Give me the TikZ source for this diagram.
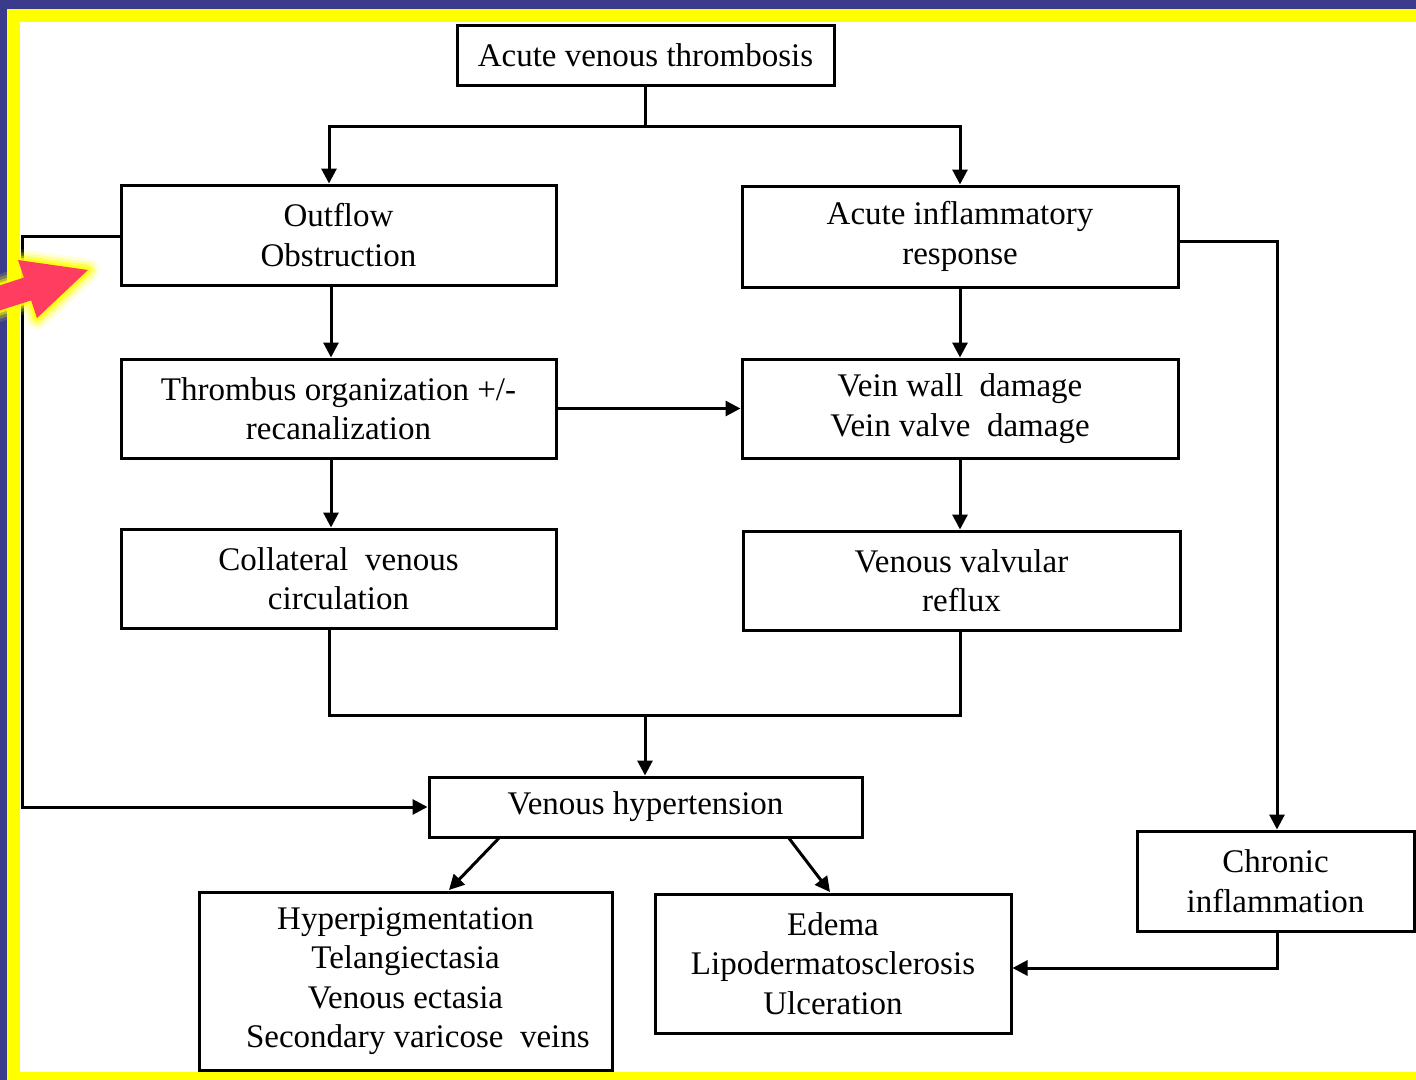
\documentclass[tikz,border=0pt]{standalone}
\usepackage{fontspec}
\setmainfont{Liberation Serif}
\usetikzlibrary{arrows.meta,calc}
\definecolor{frameblue}{HTML}{3B3B8B}
\definecolor{frameyellow}{HTML}{FFFF00}
\definecolor{pinkarrow}{HTML}{FF3D60}
\tikzset{
  box/.style={draw=black, line width=3pt, fill=white, rectangle, inner sep=0pt, align=center,
              font=\fontsize{33}{39.5}\selectfont},
  link/.style={draw=black, line width=3pt},
  arr/.style={link, -{Triangle[length=15pt,width=15pt]}}
}
\begin{document}
\begin{tikzpicture}[x=1pt,y=-1pt]
\useasboundingbox (0,0) rectangle (1416,1079);
% frame
\fill[frameblue] (-10,-10) rectangle (1430,1090);
\fill[frameyellow] (7,9) rectangle (1430,1090);
\fill[white] (20,22) rectangle (1430,1072);

% boxes
\node[box, minimum width=377pt, minimum height=60pt] (avt) at (645.5,55) {Acute venous thrombosis};
\node[box, minimum width=435pt, minimum height=100pt] (ob) at (338.5,235) {Outflow\\Obstruction};
\node[box, minimum width=436pt, minimum height=101pt] (air) at (960,236.5) {Acute inflammatory\\response};
\node[box, minimum width=435pt, minimum height=99pt] (tor) at (338.5,408.5) {Thrombus organization +/-\\recanalization};
\node[box, minimum width=436pt, minimum height=99pt] (vwd) at (960,408.5) {Vein wall\ \ damage\\Vein valve\ \ damage};
\node[box, minimum width=435pt, minimum height=99pt] (cvc) at (338.5,578.5) {Collateral\ \ venous\\circulation};
\node[box, minimum width=437pt, minimum height=99pt] (vvr) at (961.5,580.5) {Venous valvular\\reflux};
\node[box, minimum width=433pt, minimum height=60pt] (vh) at (645.5,807) {Venous hypertension};
\node[box, minimum width=413pt, minimum height=178pt] (hyp) at (405.5,981) {Hyperpigmentation\\Telangiectasia\\Venous ectasia\\\ \ \ Secondary varicose\ \ veins};
\node[box, minimum width=356pt, minimum height=139pt] (ede) at (833,963.5) {Edema\\Lipodermatosclerosis\\Ulceration};
\node[box, minimum width=277pt, minimum height=100pt] (chr) at (1275.5,881) {Chronic\\inflammation};

% junction coordinates
\coordinate (jtop) at (329,126);
\coordinate (jleft) at (331,0);
\coordinate (jbot) at (329,715);
\coordinate (jmid) at (645,715);
\coordinate (jside) at (22,236);
\coordinate (jright) at (1277,241);
\coordinate (jchr) at (1277,968);
\coordinate (hs) at (500,837);
\coordinate (hs2) at (788,837);
\coordinate (he) at (449,890);
\coordinate (he2) at (830,892);

% connectors
\draw[link] (avt.south) -- (avt.south |- jtop);
\draw[arr] (avt.south |- jtop) -- (jtop) -- (jtop |- ob.north);
\draw[arr] (avt.south |- jtop) -| (air.north);
\draw[arr] (jleft |- ob.south) -- (jleft |- tor.north);
\draw[arr] (jleft |- tor.south) -- (jleft |- cvc.north);
\draw[arr] (tor.east) -- (vwd.west);
\draw[arr] (air.south) -- (vwd.north);
\draw[arr] (vwd.south) -- (vvr.north -| vwd.south);
\draw[link] (jbot |- cvc.south) -- (jbot) -| (vvr.south -| air.south);
\draw[arr] (jmid) -- (jmid |- vh.north);
\draw[arr] (ob.west |- jside) -- (jside) |- (vh.west);
\draw[arr] (air.east |- jright) -- (jright) -- (jright |- chr.north);
\draw[arr] (jchr |- chr.south) -- (jchr) -- (jchr -| ede.east);
\draw[arr] (hs) -- (he);
\draw[arr] (hs2) -- (he2);

% pink pointer arrow with glow
\def\arrowpath{(-20,291.8) -- (23.9,277.6) -- (18,260) -- (88,270) -- (37,318) -- (31.1,300.4) -- (-13,314.5) -- cycle}
\foreach \w/\o in {22/0.15,16/0.25,10/0.45,5/0.8}{
  \draw[frameyellow, line width=\w pt, line join=round, opacity=\o] \arrowpath;
}
\fill[pinkarrow] \arrowpath;
\end{tikzpicture}
\end{document}
